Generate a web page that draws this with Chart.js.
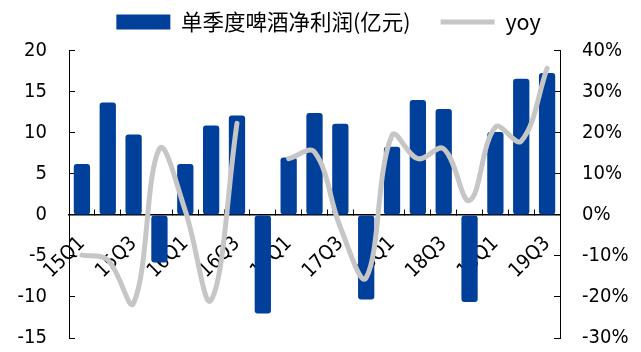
<!DOCTYPE html>
<html>
<head>
<meta charset="utf-8">
<script src="https://cdn.jsdelivr.net/npm/chart.js@4/dist/chart.umd.min.js"></script>
<style>
    html, body { margin: 0; padding: 0; background: #fff; }
    #wrap { width: 641px; height: 352px; }
</style>
</head>
<body>
<div id="wrap"><canvas id="beer-profit-chart" width="641" height="352"></canvas></div>
<script>
// ========================================
// Data
// ========================================
const quarters = ['15Q1', '15Q2', '15Q3', '15Q4', '16Q1', '16Q2', '16Q3', '16Q4',
    '17Q1', '17Q2', '17Q3', '17Q4', '18Q1', '18Q2', '18Q3', '18Q4', '19Q1', '19Q2', '19Q3'];

// 单季度啤酒净利润 (亿元)
const netProfit = [6.2, 13.7, 9.8, -5.8, 6.2, 10.9, 12.1, -12.0,
    7.0, 12.4, 11.1, -10.3, 8.3, 14.0, 12.9, -10.6, 10.1, 16.6, 17.3];

// yoy (%), 16Q4 has no value
const yoy = [-9.8, -11.0, -21.5, 16.1, 1.0, -20.8, 22.3, null,
    13.7, 15.3, -3.0, -15.3, 19.4, 13.7, 16.1, 3.5, 21.4, 18.0, 35.7];

const leftTicks = [-15, -10, -5, 0, 5, 10, 15, 20];
const rightTicks = [-30, -20, -10, 0, 10, 20, 30, 40];

const colors = {
    bar: '#00409A',
    line: '#C6C6C6',
    axis: '#000000'
};

const tickFont = { family: "'DejaVu Sans Condensed', 'DejaVu Sans', sans-serif", size: 20 };
const legendFont = { family: "'Noto Sans CJK SC', sans-serif", size: 21.5 };

Chart.defaults.color = '#000';

// extra space between the legend row and the plot, legend nudged right a bit
const legendGap = {
    id: 'legendGap',
    beforeLayout(chart) {
        const legend = chart.legend;
        if (legend && !legend._gapPatched) {
            const fit = legend.fit;
            legend.fit = function () {
                fit.call(this);
                this.height += 8;
            };
            legend._gapPatched = true;
        }
    },
    afterLayout(chart) {
        const legend = chart.legend;
        if (legend) {
            legend.left += 8;
            legend.right += 8;
        }
    }
};

// value axes: fixed width, no extra room reserved for the end labels
function fitValueAxis(width) {
    return (scale) => {
        scale.width = width;
        scale.paddingTop = 0;
        scale.paddingBottom = 0;
    };
}

// ========================================
// Chart
// ========================================
const ctx = document.getElementById('beer-profit-chart');

new Chart(ctx, {
    type: 'bar',
    data: {
        labels: quarters,
        datasets: [
            {
                type: 'line',
                label: 'yoy',
                data: yoy,
                yAxisID: 'y1',
                borderColor: colors.line,
                backgroundColor: colors.line,
                borderWidth: 5,
                borderCapStyle: 'round',
                borderJoinStyle: 'round',
                pointRadius: 0,
                pointHoverRadius: 0,
                pointStyle: 'line',
                tension: 0.38,
                spanGaps: false,
                order: 0
            },
            {
                type: 'bar',
                label: '单季度啤酒净利润(亿元)',
                data: netProfit,
                yAxisID: 'y',
                backgroundColor: colors.bar,
                borderWidth: 0,
                borderRadius: 3,
                borderSkipped: false,
                pointStyle: 'rect',
                barPercentage: 0.63,
                categoryPercentage: 1,
                order: 1
            }
        ]
    },
    plugins: [legendGap],
    options: {
        responsive: false,
        animation: false,
        layout: { padding: { top: -18.75, left: 0, right: 0, bottom: 14 } },
        plugins: {
            tooltip: { enabled: false },
            legend: {
                display: true,
                position: 'top',
                reverse: true,
                labels: {
                    font: legendFont,
                    color: '#000',
                    usePointStyle: true,
                    pointStyleWidth: 54,
                    boxHeight: 15,
                    padding: 30
                }
            }
        },
        scales: {
            x: {
                type: 'category',
                position: { y: 0 },
                offset: true,
                z: 1, // zero line and quarter labels sit on top of the bars
                grid: {
                    display: true,
                    offset: true,
                    drawOnChartArea: false,
                    drawTicks: true,
                    tickLength: -6,
                    color: colors.axis,
                    lineWidth: 1
                },
                border: { display: true, color: colors.axis, width: 1.5 },
                ticks: {
                    font: tickFont,
                    color: '#000',
                    autoSkip: false,
                    minRotation: 45,
                    maxRotation: 45,
                    padding: 23,
                    callback: (v, i) => (i % 2 === 0 ? quarters[i] : '')
                },
                afterFit: (scale) => { scale.height = 0; }
            },
            y: {
                position: 'left',
                min: -15,
                max: 20,
                afterBuildTicks: (scale) => { scale.ticks = leftTicks.map(v => ({ value: v })); },
                grid: {
                    drawOnChartArea: false,
                    tickLength: -6,
                    color: colors.axis
                },
                border: { display: true, color: colors.axis, width: 1 },
                ticks: { font: tickFont, color: '#000', padding: 28 },
                afterFit: fitValueAxis(69)
            },
            y1: {
                position: 'right',
                min: -30,
                max: 40,
                afterBuildTicks: (scale) => { scale.ticks = rightTicks.map(v => ({ value: v })); },
                grid: {
                    drawOnChartArea: false,
                    tickLength: -6,
                    color: colors.axis
                },
                border: { display: true, color: colors.axis, width: 1 },
                ticks: {
                    font: tickFont,
                    color: '#000',
                    padding: 28,
                    callback: (v) => v + '%'
                },
                afterFit: fitValueAxis(81)
            }
        }
    }
});
</script>
</body>
</html>
